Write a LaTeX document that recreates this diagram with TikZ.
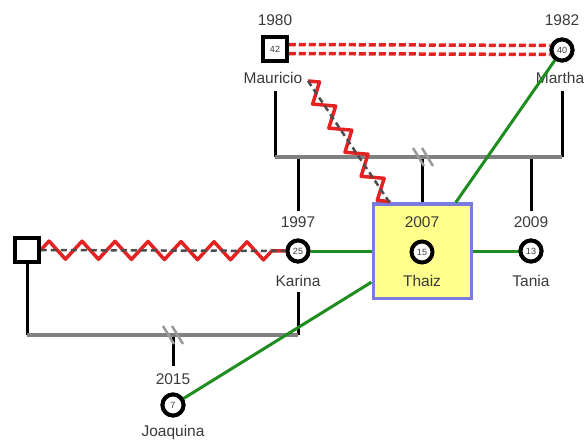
\documentclass[tikz,border=0pt]{standalone}
\usepackage{fontspec}
\setmainfont{Liberation Sans}
\usetikzlibrary{decorations.pathmorphing}
\definecolor{txt}{HTML}{3A3A3A}
\definecolor{grn}{HTML}{1E8C1E}
\definecolor{rd}{HTML}{E42222}
\definecolor{gry}{HTML}{808080}
\definecolor{boxblue}{HTML}{7A7AE0}
\definecolor{boxyel}{HTML}{FFFF8C}
\begin{document}
\begin{tikzpicture}[x=1pt,y=-1pt,
  lbl/.style={text=txt, font=\fontsize{15.5}{17}\selectfont, inner sep=0},
  male/.style={draw=black, line width=3.5, fill=white, minimum size=24, inner sep=0, text=txt, font=\fontsize{9}{10}\selectfont},
  female/.style={circle, draw=black, line width=4, fill=white, minimum size=21, inner sep=0, text=txt, font=\fontsize{9}{10}\selectfont},
  blk/.style={draw=black, line width=3},
  gline/.style={draw=gry, line width=3.5},
  brk/.style={draw=gry!80, line width=2.5},
  grnl/.style={draw=grn, line width=3},
  reddash/.style={draw=rd, line width=3.5, dash pattern=on 7pt off 3pt},
  zzred/.style={draw=rd, line width=3.5, line join=round, decorate, decoration={zigzag, segment length=33, amplitude=9}},
  zzgray/.style={draw=black!70, line width=2.5, dash pattern=on 6pt off 4pt},
  zzred2/.style={draw=rd, line width=3.5, line join=round, decorate, decoration={zigzag, segment length=29, amplitude=9}},
]
\useasboundingbox (0,0) rectangle (584,441);

% Thaiz box
\node[draw=boxblue, fill=boxyel, line width=3, minimum width=98, minimum height=94, inner sep=0] (box) at (422,251) {};

% persons
\node[male] (mau) at (275,49) {42};
\node[lbl] (mauy) at (275,20) {1980};
\node[lbl] (maun) at (273,78) {Mauricio};

\node[female] (mar) at (562,50) {40};
\node[lbl] (mary) at (562,20) {1982};
\node[lbl] (marn) at (560,78) {Martha};

\node[female] (kar) at (298,251) {25};
\node[lbl] (kary) at (298,222) {1997};
\node[lbl] (karn) at (298,281) {Karina};

\node[female] (tha) at (422,252) {15};
\node[lbl] (thay) at (422,222) {2007};
\node[lbl] (than) at (422,281) {Thaiz};

\node[female] (tan) at (531,251) {13};
\node[lbl] (tany) at (531,222) {2009};
\node[lbl] (tann) at (531,281) {Tania};

\node[male] (lsq) at (27,250) {};

\node[female] (joa) at (173,405) {7};
\node[lbl] (joay) at (173,379) {2015};
\node[lbl] (joan) at (173,432) {Joaquina};

% junction coordinates
\coordinate (m1) at (275,91);
\coordinate (m2) at (275,157);
\coordinate (f1) at (562,91);
\coordinate (f2) at (562,157);
\coordinate (c1) at (298,157);
\coordinate (c1e) at (298,211);
\coordinate (c2) at (422,157);
\coordinate (c3) at (531,157);
\coordinate (c3e) at (531,211);
\coordinate (l1) at (27,335);
\coordinate (k1) at (298,292);
\coordinate (k2) at (298,335);
\coordinate (j1) at (173,335);
\coordinate (j2) at (173,366);
\coordinate (b1) at (423,157);
\coordinate (b2) at (173,335);
\coordinate (zs) at (308,81);

% upper couple
\draw[reddash] ([yshift=-4.5]mau.east) -- ([yshift=-4.5]mar.west);
\draw[reddash] ([yshift=4.5]mau.east) -- ([yshift=4.5]mar.west);
\draw[blk] (m1) -- (m2);
\draw[blk] (f1) -- (f2);
\draw[blk] (c1) -- (c1e);
\draw[blk] (c2) -- (box);
\draw[blk] (c3) -- (c3e);
\draw[gline] (m2) -- (f2);
\draw[brk] ([xshift=-10,yshift=9]b1) -- ([xshift=1,yshift=-9]b1);
\draw[brk] ([xshift=-1,yshift=9]b1) -- ([xshift=10,yshift=-9]b1);

% lower couple
\draw[blk] (lsq) -- (l1);
\draw[blk] (k1) -- (k2);
\draw[blk] (j1) -- (j2);
\draw[gline] (l1) -- (k2);
\draw[brk] ([xshift=-10,yshift=9]b2) -- ([xshift=1,yshift=-9]b2);
\draw[brk] ([xshift=-1,yshift=9]b2) -- ([xshift=10,yshift=-9]b2);

% zigzag relations
\draw[zzred] (lsq) -- (kar);
\draw[zzgray] (lsq) -- (kar);
\draw[zzred2] (zs) -- (box);
\draw[zzgray] (zs) -- (box);

% green links
\draw[grnl] (kar) -- (box);
\draw[grnl] (box) -- (tan);
\draw[grnl] (box) -- (mar);
\draw[grnl] (box) -- (joa);

% redraw symbols on top
\node[male] at (mau) {42};
\node[female] at (mar) {40};
\node[female] at (kar) {25};
\node[female] at (tan) {13};
\node[female] at (joa) {7};
\node[male] at (lsq) {};
\end{tikzpicture}
\end{document}
